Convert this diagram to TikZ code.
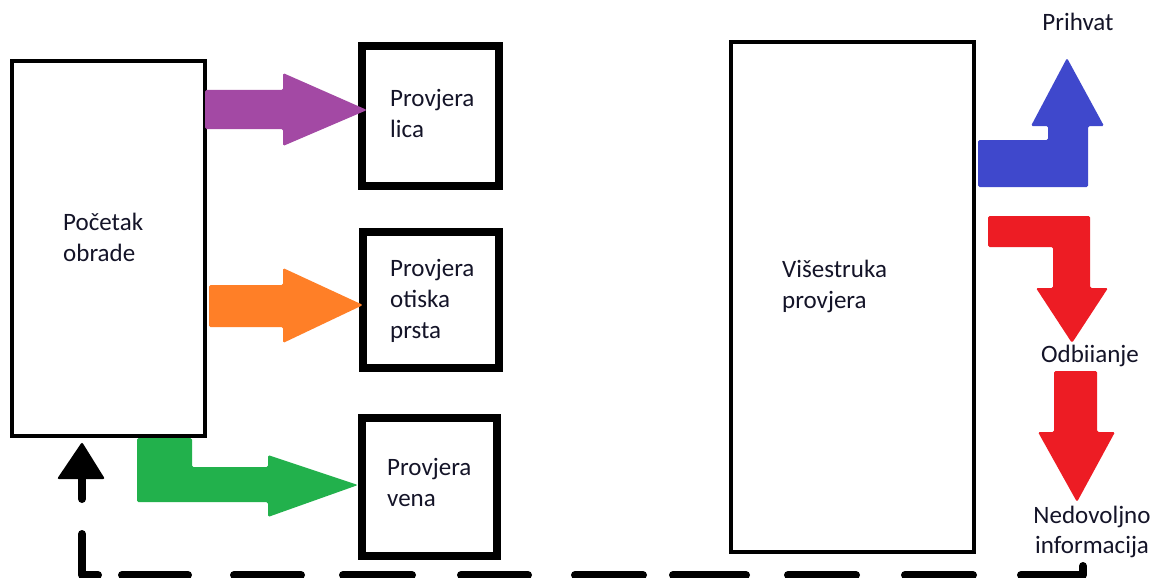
\documentclass[tikz,border=0pt]{standalone}
\usepackage{fontspec}
\setmainfont{Carlito}
\definecolor{ppurple}{HTML}{A349A4}
\definecolor{porange}{HTML}{FF7F27}
\definecolor{pgreen}{HTML}{22B14C}
\definecolor{pblue}{HTML}{3F48CC}
\definecolor{pred}{HTML}{ED1C24}
\definecolor{ptext}{HTML}{141428}
\begin{document}
\begin{tikzpicture}[x=1pt,y=-1pt,
  thinbox/.style={draw=black,line width=4pt,rectangle,inner sep=0pt,fill=white},
  thickbox/.style={draw=black,line width=8pt,rectangle,inner sep=0pt,fill=white},
  lbl/.style={font=\fontsize{25}{31}\selectfont,text=ptext,align=left,inner sep=0pt,anchor=base west},
  clbl/.style={font=\fontsize{25}{30}\selectfont,text=ptext,align=center,inner sep=0pt,anchor=base},
  blockarrow/.style={rounded corners=1.5pt},
  dashseg/.style={draw=black,line width=8pt,line cap=round,line join=round}]
\useasboundingbox (0,0) rectangle (1157,578);
\fill[white] (0,0) rectangle (1157,578);

% boxes
\node[thinbox,minimum width=193pt,minimum height=375pt] (start) at (108.5,248.5) {};
\node[thickbox,minimum width=137pt,minimum height=140pt] (lica) at (430.5,116) {};
\node[thickbox,minimum width=136pt,minimum height=136pt] (prst) at (431,300) {};
\node[thickbox,minimum width=135pt,minimum height=138pt] (vena) at (429.5,487) {};
\node[thinbox,minimum width=243pt,minimum height=510pt] (multi) at (852.5,297) {};

% labels (base anchor = baseline of the last line)
\node[lbl] (tstart) at (63,261) {Početak\\obrade};
\node[lbl] (tlica) at (390,137) {Provjera\\lica};
\node[lbl] (tprst) at (390,338) {Provjera\\otiska\\prsta};
\node[lbl] (tvena) at (387,506) {Provjera\\vena};
\node[lbl] (tmulti) at (782,308) {Višestruka\\provjera};
\node[clbl] (acc) at (1078,31) {Prihvat};
\node[clbl] (rej) at (1090,362) {Odbiianje};
\node[clbl] (insuf) at (1092,553) {Nedovoljno\\informacija};

% block arrows
\fill[ppurple,blockarrow] (205,90) -- (283,90) -- (283,73) -- (367,110) -- (283,146) -- (283,129) -- (205,129) -- cycle;
\fill[porange,blockarrow] (209,285) -- (283,285) -- (283,268) -- (363,305) -- (283,343) -- (283,327) -- (209,327) -- cycle;
\fill[pgreen,blockarrow] (137,438) -- (192,438) -- (192,467) -- (268,467) -- (268,455) -- (358,485) -- (268,517) -- (268,502) -- (137,502) -- cycle;
\fill[pblue,blockarrow] (978,140) -- (1048,140) -- (1048,126) -- (1031,126) -- (1067,58) -- (1104,126) -- (1088,126) -- (1088,187) -- (978,187) -- cycle;
\fill[pred,blockarrow] (988,216) -- (1090,216) -- (1090,288) -- (1108,288) -- (1072,343) -- (1036,288) -- (1053,288) -- (1053,247) -- (988,247) -- cycle;
\fill[pred,blockarrow] (1054,371) -- (1097,371) -- (1097,432) -- (1115,432) -- (1077,502) -- (1038,432) -- (1054,432) -- cycle;

% dashed return line
\coordinate (ret) at (82,442);
\draw[dashseg] (1083,566) -- (1083,575) -- (1021,575);
\foreach \a/\b in {905/973, 788/856, 673/746, 575/643, 461/528, 343/412, 234/301, 122/188}
  \draw[dashseg] (\b,575) -- (\a,575);
\draw[dashseg] (98,575) -- (82,575) -- (82,534);
\draw[dashseg] (82,499) -- (82,479);
\fill[black,rounded corners=2pt] (ret) -- (105,479) -- (57,479) -- cycle;
\end{tikzpicture}
\end{document}
